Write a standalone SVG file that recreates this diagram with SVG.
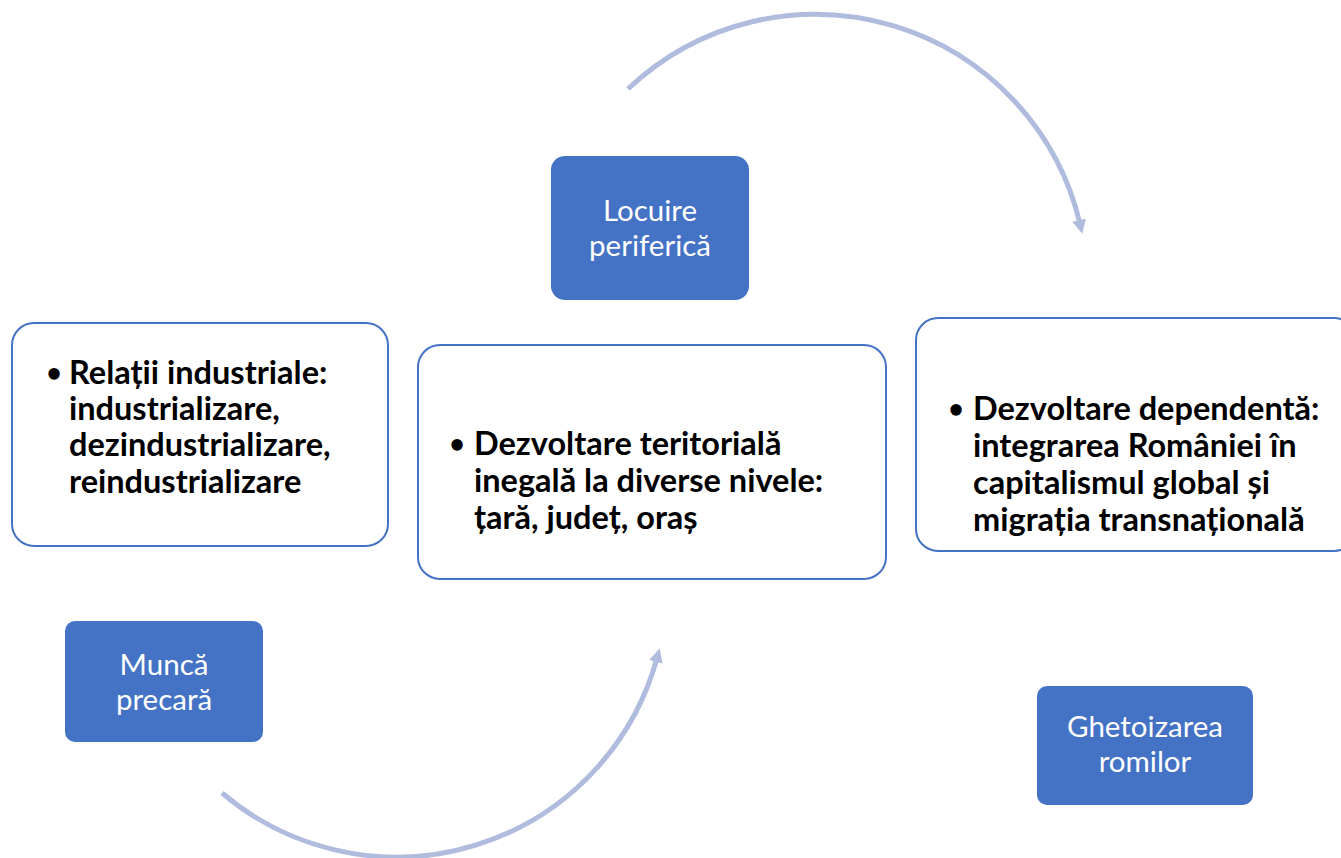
<svg xmlns="http://www.w3.org/2000/svg" width="1341" height="858" viewBox="0 0 1341 858">
<style>
.blue{fill:#4472C4;}
.white{fill:#FFFFFF;stroke:#4472C4;stroke-width:2;}
.lt{font-family:Lato,"Open Sans","Liberation Sans",sans-serif;font-size:29.5px;fill:#FFFFFF;text-anchor:middle;}
.bt{font-family:Lato,"Open Sans","Liberation Sans",sans-serif;font-size:32.5px;font-weight:bold;fill:#000000;}
.bu{font-family:Lato,"Open Sans","Liberation Sans",sans-serif;font-size:26px;font-weight:bold;fill:#000000;text-anchor:middle;}
.arc{fill:none;stroke:#B0BCDE;stroke-width:5;}
</style>
<defs>
<marker id="ah" markerUnits="userSpaceOnUse" markerWidth="16" markerHeight="16" refX="4" refY="8" orient="auto">
<path d="M0,1 L14,8 L0,15 Z" fill="#B0BCDE"/>
</marker>
</defs>
<rect width="1341" height="858" fill="#FFFFFF"/>
<g id="connectors">
<path class="arc" d="M628,89 A272,272 0 0 1 1080,224" marker-end="url(#ah)"/>
<path class="arc" d="M222,793 A270,270 0 0 0 657,658" marker-end="url(#ah)"/>
</g>
<g id="locuire">
<rect class="blue" x="551" y="156" width="198" height="144" rx="14"/>
<text class="lt" x="650" y="221">Locuire</text>
<text class="lt" x="650" y="256">periferică</text>
</g>
<g id="munca">
<rect class="blue" x="65" y="621" width="198" height="121" rx="10"/>
<text class="lt" x="164" y="675">Muncă</text>
<text class="lt" x="164" y="710">precară</text>
</g>
<g id="ghetoizarea">
<rect class="blue" x="1037" y="686" width="216" height="119" rx="10"/>
<text class="lt" x="1145" y="737">Ghetoizarea</text>
<text class="lt" x="1145" y="772">romilor</text>
</g>
<g id="relatii">
<rect class="white" x="12" y="323" width="376" height="223" rx="22"/>
<text class="bu" x="54" y="382">•</text>
<text class="bt" x="69" y="384">Relații industriale:</text>
<text class="bt" x="69" y="420">industrializare,</text>
<text class="bt" x="69" y="456">dezindustrializare,</text>
<text class="bt" x="69" y="493">reindustrializare</text>
</g>
<g id="dezvoltare-teritoriala">
<rect class="white" x="418" y="345" width="468" height="234" rx="22"/>
<text class="bu" x="457" y="453">•</text>
<text class="bt" x="474" y="455">Dezvoltare teritorială</text>
<text class="bt" x="474" y="492">inegală la diverse nivele:</text>
<text class="bt" x="474" y="529">țară, județ, oraș</text>
</g>
<g id="dezvoltare-dependenta">
<rect class="white" x="916" y="318" width="440" height="233" rx="22"/>
<text class="bu" x="956" y="418">•</text>
<text class="bt" x="973" y="420">Dezvoltare dependentă:</text>
<text class="bt" x="973" y="457">integrarea României în</text>
<text class="bt" x="973" y="494">capitalismul global și</text>
<text class="bt" x="973" y="531">migrația transnațională</text>
</g>
</svg>
